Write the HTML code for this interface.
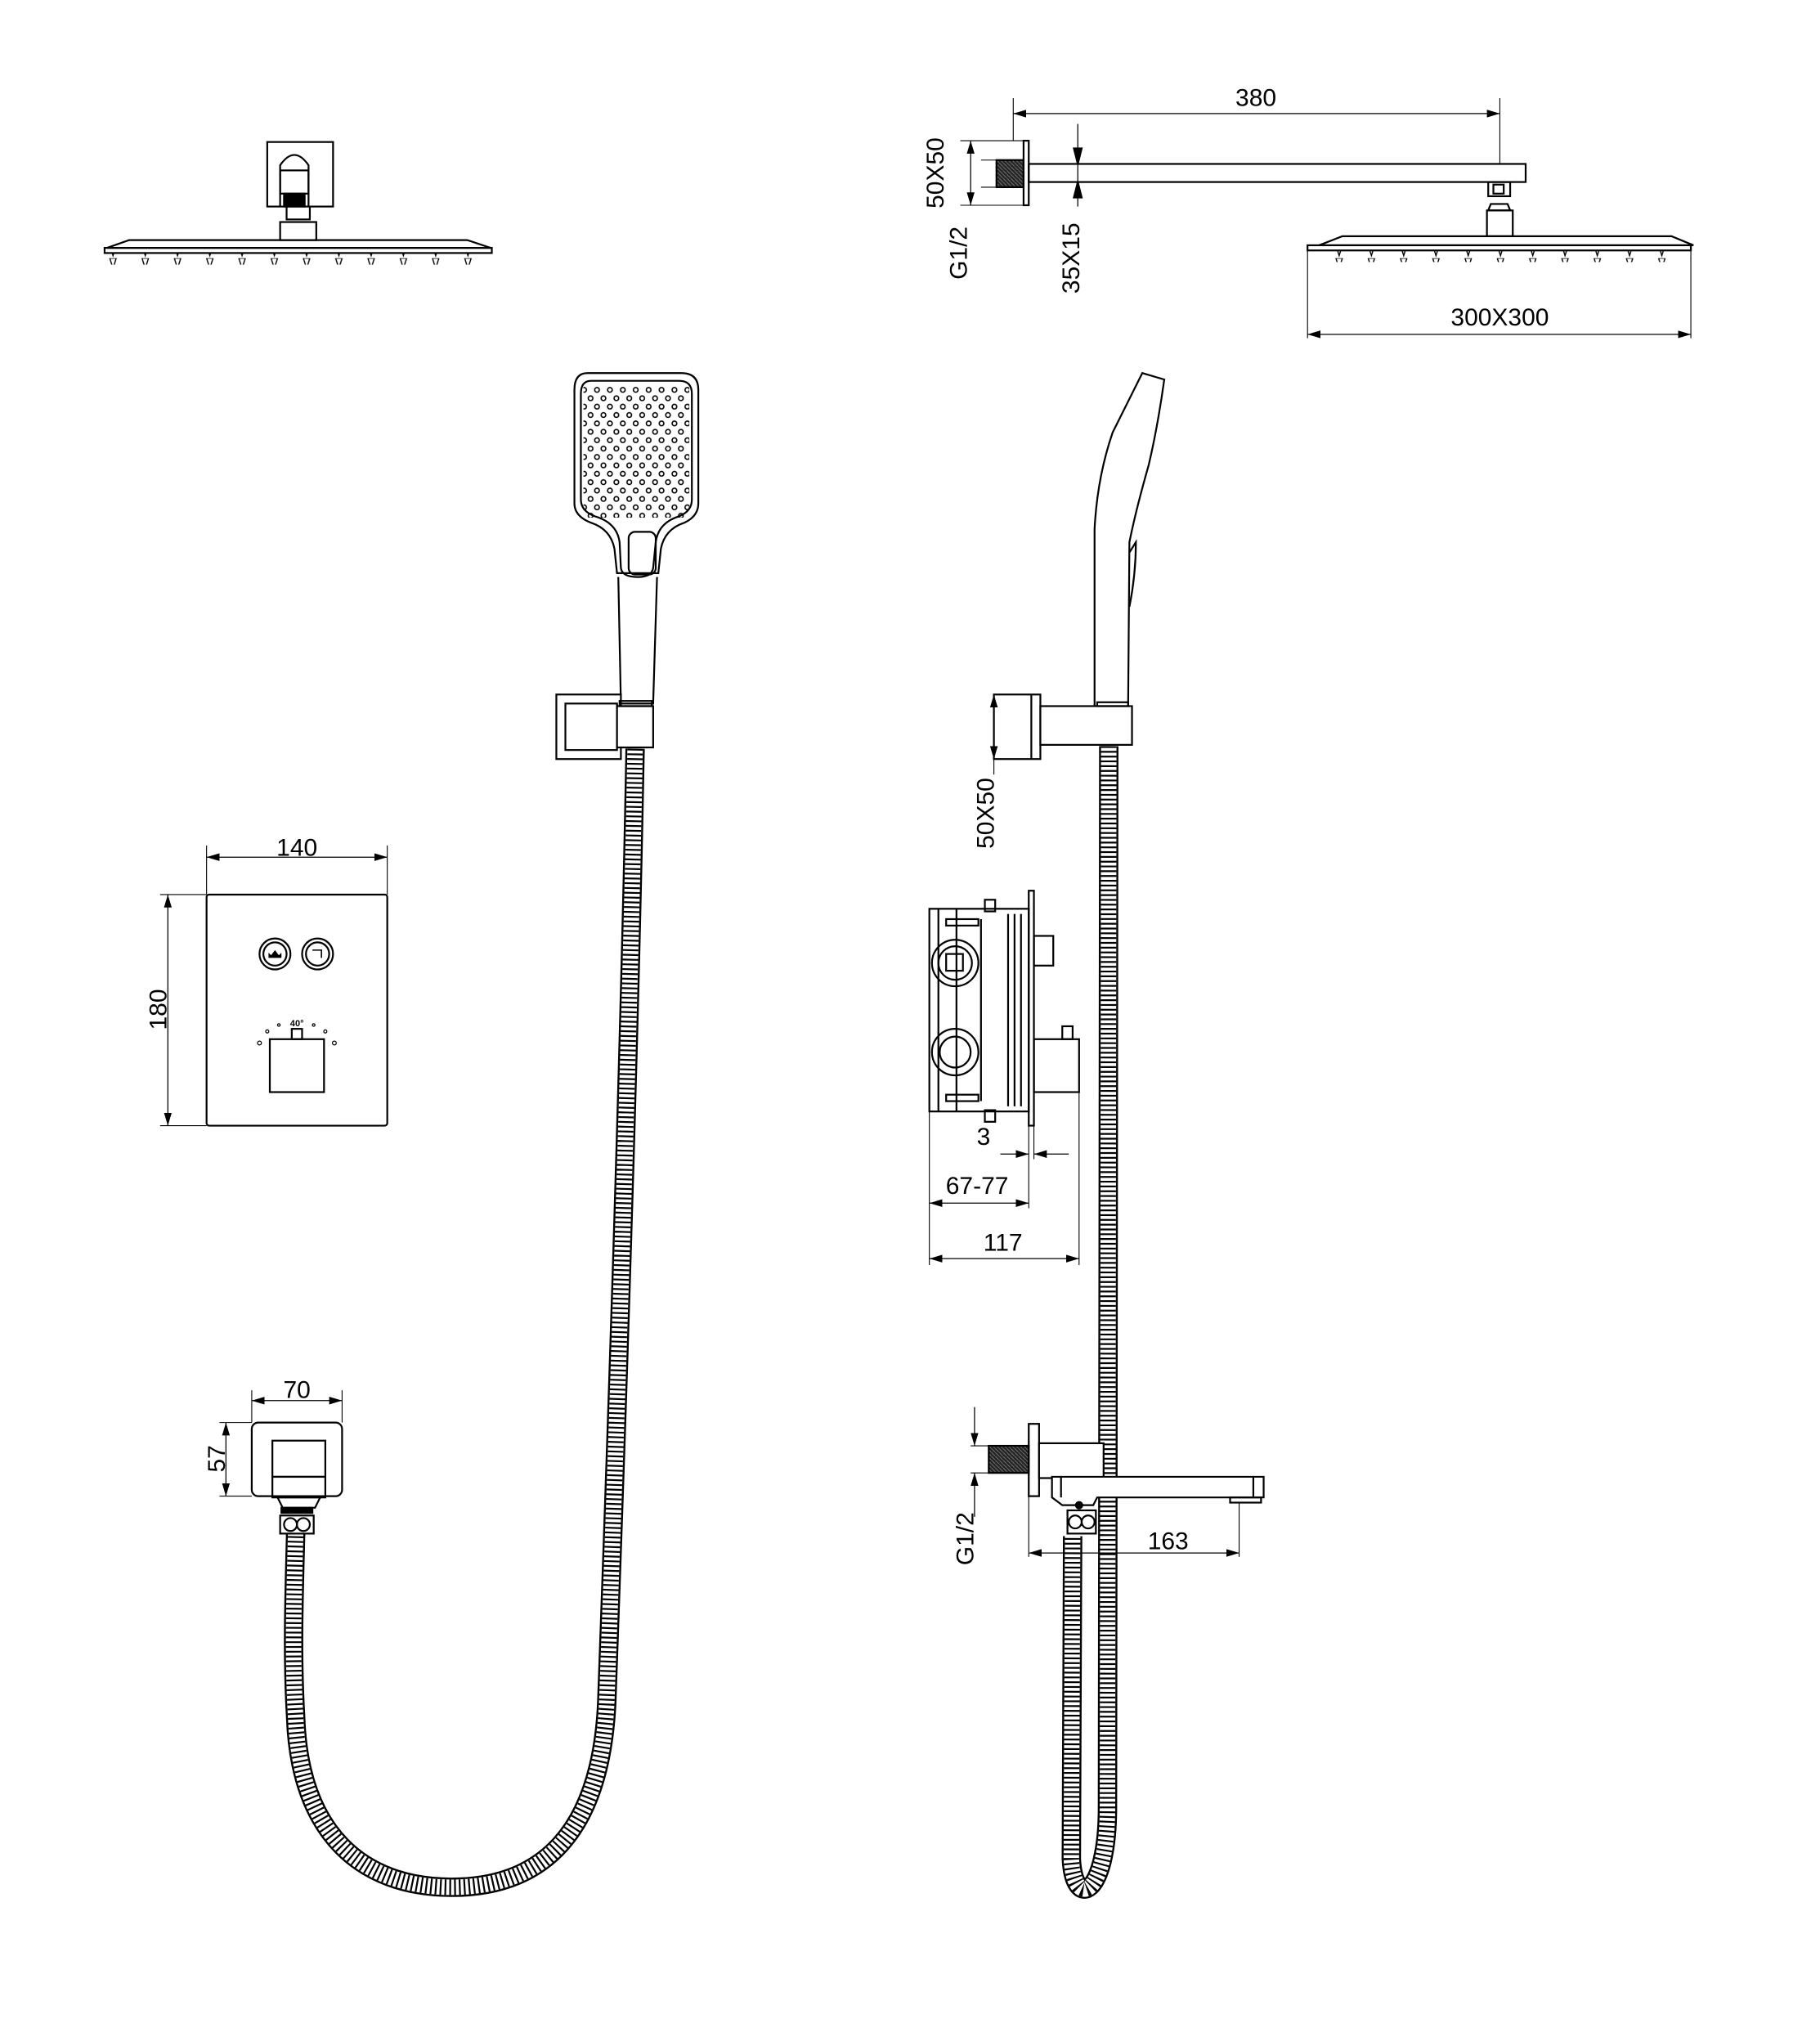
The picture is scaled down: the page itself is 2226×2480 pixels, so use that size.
<!DOCTYPE html>
<html><head><meta charset="utf-8"><style>
html,body{margin:0;padding:0;background:#fff}
svg{display:block}
text{font-family:"Liberation Sans",sans-serif;fill:#000}
</style></head><body>
<svg width="2226" height="2480" viewBox="0 0 1410 1571" xmlns="http://www.w3.org/2000/svg">
<defs>
<marker id="a" viewBox="0 0 10 6" refX="10" refY="3" markerWidth="10" markerHeight="6" orient="auto-start-reverse" markerUnits="userSpaceOnUse"><path d="M0,0L10,3L0,6z" fill="#000"/></marker>
<pattern id="holes" width="10" height="13" patternUnits="userSpaceOnUse"><circle cx="2.5" cy="3" r="1.8" fill="none" stroke="#000" stroke-width="1"/><circle cx="7.5" cy="9.5" r="1.8" fill="none" stroke="#000" stroke-width="1"/></pattern>
<pattern id="noz" x="0" y="0" width="25" height="10" patternUnits="userSpaceOnUse"><path d="M10,0L15,0L12.5,8z" fill="none" stroke="#000" stroke-width="0.9"/></pattern>
<pattern id="thr" width="3" height="3" patternUnits="userSpaceOnUse"><rect width="3" height="3" fill="#222"/><line x1="0" y1="0" x2="3" y2="3" stroke="#777" stroke-width="0.6"/></pattern>
</defs>
<g fill="none" stroke="#000" stroke-width="1.4">

<!-- TOP LEFT head front -->
<rect x="207" y="110" width="51" height="50"/>
<path d="M217,160 L217,128 Q228,112 239,128 L239,160"/>
<rect x="217" y="132" width="22" height="18"/>
<rect x="220" y="150" width="16" height="10" fill="#000"/>
<path d="M222,160 L222,170 L240,170 L240,160"/>
<rect x="217" y="172" width="28" height="14"/>
<path d="M100,186 L362,186 L380,192 L83,192 Z"/>
<rect x="81" y="192" width="300" height="4"/>
<rect x="83" y="196" width="295" height="9" fill="url(#noz)" stroke="none"/>

<!-- TOP RIGHT head side -->
<rect x="793" y="109" width="4" height="50"/>
<rect x="772" y="124" width="21" height="21" fill="url(#thr)"/>
<rect x="797" y="127" width="385" height="14"/>
<line x1="785" y1="76" x2="785" y2="109" stroke-width="0.7"/>
<line x1="1162" y1="76" x2="1162" y2="127" stroke-width="0.7"/>
<line x1="785" y1="88" x2="1162" y2="88" marker-start="url(#a)" marker-end="url(#a)" stroke-width="0.8"/>
<line x1="744" y1="109" x2="793" y2="109" stroke-width="0.7"/>
<line x1="744" y1="159" x2="793" y2="159" stroke-width="0.7"/>
<line x1="752" y1="109" x2="752" y2="159" marker-start="url(#a)" marker-end="url(#a)" stroke-width="0.8"/>
<line x1="760" y1="124" x2="772" y2="124" stroke-width="0.7"/>
<line x1="760" y1="145" x2="772" y2="145" stroke-width="0.7"/>
<line x1="835" y1="96" x2="835" y2="160" stroke-width="0.8"/>
<path d="M832,115 L835,127 L838,115z M832,153 L835,141 L838,153z" fill="#000"/>
<rect x="1153" y="141" width="17" height="11"/>
<rect x="1157" y="143" width="8" height="7"/>
<path d="M1155,158 L1168,158 L1170,163 L1153,163 Z"/>
<rect x="1152" y="163" width="20" height="20"/>
<path d="M1040,183 L1295,183 L1312,190 L1022,190 Z"/>
<rect x="1013" y="190" width="297" height="4"/>
<rect x="1025" y="194" width="285" height="9" fill="url(#noz)" stroke="none"/>
<line x1="1013" y1="194" x2="1013" y2="262" stroke-width="0.7"/>
<line x1="1310" y1="194" x2="1310" y2="262" stroke-width="0.7"/>
<line x1="1013" y1="259" x2="1310" y2="259" marker-start="url(#a)" marker-end="url(#a)" stroke-width="0.8"/>

<!-- HOSES -->
<g id="hoses">
<path id="h1" d="M492,580 C488,800 478,1100 470,1320 C465,1420 420,1462 350,1462 C280,1462 232,1420 229,1330 C226,1280 228,1230 229,1188"/>
<path id="h2" d="M859,578 L858,1400 C858,1470 832,1480 830,1440 L831,1190"/>
</g>
<g stroke-width="15"><use href="#h1"/><use href="#h2"/></g>
<g stroke="#fff" stroke-width="12"><use href="#h1"/><use href="#h2"/></g>
<g stroke-width="12" stroke-dasharray="1.4 2.3"><use href="#h1"/><use href="#h2"/></g>

<!-- HAND SHOWER front -->
<path d="M455,289 L528,289 Q541,289 541,302 L541,390 Q541,400 530,405 Q515,410 512,425 L510,444 L478,444 L476,425 Q473,410 458,405 Q445,400 445,390 L445,302 Q445,289 455,289 Z" fill="#fff"/>
<path d="M458,295 L526,295 Q536,295 536,305 L536,387 Q536,396 526,400 Q510,405 508,420 L506,440 Q505,447 494,447 Q482,447 481,440 L480,420 Q478,405 461,400 Q450,396 450,387 L450,305 Q450,295 458,295 Z"/>
<rect x="452" y="299" width="82" height="102" fill="url(#holes)" stroke="none"/>
<rect x="487" y="412" width="21" height="33" rx="5"/>
<path d="M479,447 L481,545 L506,545 L509,447"/>
<rect x="431" y="538" width="50" height="50" fill="#fff"/>
<rect x="438" y="545" width="40" height="36"/>
<rect x="478" y="547" width="28" height="32" fill="#fff"/>
<rect x="480" y="543" width="25" height="4"/>

<!-- HAND SHOWER side -->
<path d="M885,289 L902,294 Q897,330 890,360 Q880,395 875,420 L874,548 L848,548 L848,410 Q850,370 862,335 Z" fill="#fff"/>
<path d="M875,428 L880,420 Q880,445 875,470"/>
<rect x="770" y="538" width="36" height="50" fill="#fff"/>
<line x1="799" y1="538" x2="799" y2="588"/>
<rect x="806" y="547" width="71" height="30" fill="#fff"/>
<rect x="850" y="544" width="24" height="3"/>
<line x1="770" y1="538" x2="770" y2="588" marker-start="url(#a)" marker-end="url(#a)" stroke-width="0.8"/>
<line x1="770" y1="588" x2="770" y2="600" stroke-width="0.7"/>

<!-- THERMOSTAT PLATE -->
<rect x="160" y="693" width="140" height="179" rx="2"/>
<circle cx="213" cy="739" r="12"/><circle cx="213" cy="739" r="9"/>
<path d="M208,742 L218,742 L218,738 L216,740 L213,736 L210,740 L208,738 Z" fill="#000" stroke="none"/>
<circle cx="246" cy="739" r="12"/><circle cx="246" cy="739" r="9"/>
<path d="M242,736 L249,736 L249,742" stroke-width="1"/>
<rect x="209" y="805" width="42" height="41"/>
<rect x="226" y="797" width="8" height="8"/>
<g stroke-width="0.8"><circle cx="201" cy="808" r="1.5"/><circle cx="207" cy="799" r="1.2"/><circle cx="216" cy="794" r="1"/><circle cx="243" cy="794" r="1"/><circle cx="252" cy="799" r="1.2"/><circle cx="259" cy="808" r="1.5"/></g>
<line x1="160" y1="664" x2="300" y2="664" marker-start="url(#a)" marker-end="url(#a)" stroke-width="0.8"/>
<line x1="160" y1="655" x2="160" y2="693" stroke-width="0.7"/>
<line x1="300" y1="655" x2="300" y2="693" stroke-width="0.7"/>
<line x1="130" y1="693" x2="130" y2="872" marker-start="url(#a)" marker-end="url(#a)" stroke-width="0.8"/>
<line x1="124" y1="693" x2="160" y2="693" stroke-width="0.7"/>
<line x1="124" y1="872" x2="160" y2="872" stroke-width="0.7"/>

<!-- VALVE BODY -->
<rect x="797" y="690" width="4" height="182"/>
<rect x="720" y="704" width="77" height="157"/>
<line x1="727" y1="704" x2="727" y2="861"/>
<line x1="760" y1="712" x2="760" y2="853"/>
<line x1="781" y1="708" x2="781" y2="857"/>
<line x1="786" y1="708" x2="786" y2="857"/>
<line x1="791" y1="708" x2="791" y2="857"/>
<line x1="741" y1="704" x2="741" y2="861"/>
<rect x="733" y="712" width="25" height="5"/>
<rect x="733" y="848" width="25" height="5"/>
<rect x="763" y="697" width="8" height="9"/>
<rect x="763" y="860" width="8" height="9"/>
<circle cx="740" cy="746" r="18"/><circle cx="740" cy="746" r="13"/>
<rect x="733" y="739" width="13" height="13"/>
<circle cx="740" cy="815" r="18"/><circle cx="740" cy="815" r="12"/>
<rect x="801" y="725" width="15" height="23"/>
<rect x="801" y="805" width="35" height="41"/>
<rect x="823" y="795" width="8" height="10"/>
<line x1="720" y1="861" x2="720" y2="980" stroke-width="0.7"/>
<line x1="797" y1="872" x2="797" y2="936" stroke-width="0.7"/>
<line x1="801" y1="872" x2="801" y2="898" stroke-width="0.7"/>
<line x1="836" y1="846" x2="836" y2="980" stroke-width="0.7"/>
<line x1="775" y1="894" x2="797" y2="894" marker-end="url(#a)" stroke-width="0.8"/>
<line x1="828" y1="894" x2="801" y2="894" marker-end="url(#a)" stroke-width="0.8"/>
<line x1="720" y1="932" x2="797" y2="932" marker-start="url(#a)" marker-end="url(#a)" stroke-width="0.8"/>
<line x1="720" y1="975" x2="836" y2="975" marker-start="url(#a)" marker-end="url(#a)" stroke-width="0.8"/>

<!-- WALL OUTLET left -->
<rect x="195" y="1102" width="70" height="57" rx="5"/>
<rect x="211" y="1116" width="41" height="28"/>
<rect x="211" y="1144" width="41" height="16"/>
<path d="M215,1160 L248,1160 L244,1168 L219,1168 Z"/>
<rect x="218" y="1168" width="24" height="4" fill="#000"/>
<rect x="217" y="1174" width="26" height="14"/>
<circle cx="225" cy="1181" r="5"/><circle cx="235" cy="1181" r="5"/>
<line x1="195" y1="1085" x2="265" y2="1085" marker-start="url(#a)" marker-end="url(#a)" stroke-width="0.8"/>
<line x1="195" y1="1077" x2="195" y2="1102" stroke-width="0.7"/>
<line x1="265" y1="1077" x2="265" y2="1102" stroke-width="0.7"/>
<line x1="175" y1="1102" x2="175" y2="1159" marker-start="url(#a)" marker-end="url(#a)" stroke-width="0.8"/>
<line x1="170" y1="1102" x2="195" y2="1102" stroke-width="0.7"/>
<line x1="170" y1="1159" x2="195" y2="1159" stroke-width="0.7"/>

<!-- SPOUT -->
<rect x="797" y="1103" width="8" height="56" fill="#fff"/>
<rect x="766" y="1120" width="31" height="21" fill="url(#thr)"/>
<rect x="805" y="1118" width="50" height="27" fill="#fff"/>
<path d="M815,1144 L979,1144 L979,1160 L850,1160 L847,1166 L823,1166 L815,1160 Z" fill="#fff"/>
<line x1="822" y1="1144" x2="822" y2="1160"/>
<line x1="971" y1="1144" x2="971" y2="1160"/>
<rect x="953" y="1160" width="24" height="4"/>
<rect x="827" y="1170" width="22" height="18" fill="#fff"/>
<circle cx="833" cy="1179" r="5"/><circle cx="843" cy="1179" r="5"/>
<circle cx="836" cy="1166" r="2.5" fill="#000"/>
<line x1="755" y1="1090" x2="755" y2="1120" marker-end="url(#a)" stroke-width="0.8"/>
<line x1="755" y1="1175" x2="755" y2="1141" marker-end="url(#a)" stroke-width="0.8"/>
<line x1="752" y1="1120" x2="772" y2="1120" stroke-width="0.7"/>
<line x1="752" y1="1141" x2="772" y2="1141" stroke-width="0.7"/>
<line x1="797" y1="1159" x2="797" y2="1206" stroke-width="0.7"/>
<line x1="960" y1="1164" x2="960" y2="1206" stroke-width="0.7"/>
<line x1="797" y1="1203" x2="960" y2="1203" marker-start="url(#a)" marker-end="url(#a)" stroke-width="0.8"/>
</g>

<!-- TEXT -->
<g font-size="19">
<text x="973" y="88" text-anchor="middle" dy="-6">380</text>
<text x="1162" y="252" text-anchor="middle">300X300</text>
<text transform="translate(731,134) rotate(-90)" text-anchor="middle">50X50</text>
<text transform="translate(749,196) rotate(-90)" text-anchor="middle">G1/2</text>
<text transform="translate(836,200) rotate(-90)" text-anchor="middle">35X15</text>
<text transform="translate(770,630) rotate(-90)" text-anchor="middle">50X50</text>
<text x="230" y="664" text-anchor="middle" dy="-1">140</text>
<text transform="translate(129,782) rotate(-90)" text-anchor="middle">180</text>
<text x="762" y="887" text-anchor="middle">3</text>
<text x="757" y="925" text-anchor="middle">67-77</text>
<text x="777" y="969" text-anchor="middle">117</text>
<text x="230" y="1083" text-anchor="middle">70</text>
<text transform="translate(174,1130) rotate(-90)" text-anchor="middle">57</text>
<text transform="translate(754,1192) rotate(-90)" text-anchor="middle">G1/2</text>
<text x="905" y="1200" text-anchor="middle">163</text>
</g>
<text x="230" y="795" text-anchor="middle" font-size="7" font-weight="bold">40°</text>
</svg>
</body></html>
